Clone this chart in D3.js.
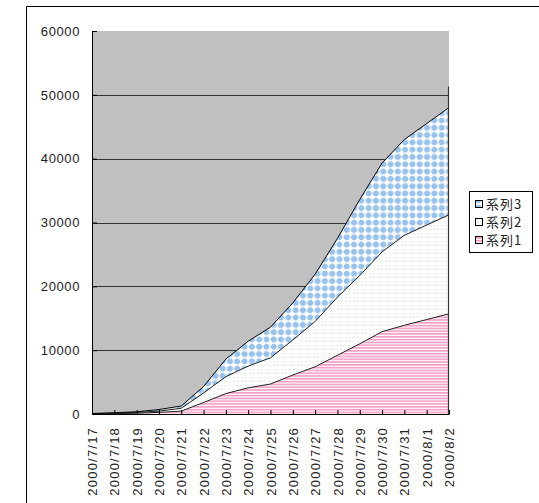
<!DOCTYPE html>
<html>
<head>
<meta charset="utf-8">
<script src="https://cdn.jsdelivr.net/npm/d3@7"></script>
<style>
  html, body { margin: 0; padding: 0; background: #fff; }
  svg { display: block; }
</style>
</head>
<body>
<svg id="chart" width="539" height="503"></svg>
<script>
// Daily dates on the category axis
const dates = ["2000/7/17","2000/7/18","2000/7/19","2000/7/20","2000/7/21","2000/7/22",
  "2000/7/23","2000/7/24","2000/7/25","2000/7/26","2000/7/27","2000/7/28",
  "2000/7/29","2000/7/30","2000/7/31","2000/8/1","2000/8/2"];

// Series values (stacked bottom to top: 系列1, 系列2, 系列3)
const series1 = [20, 60, 120, 250, 450, 1800, 3200, 4100, 4700, 6100, 7400, 9200, 11000, 12900, 13900, 14800, 15700];
const series2 = [30, 60, 130, 200, 450, 1500, 2650, 3400, 4100, 5500, 7100, 9100, 10700, 12500, 14100, 14800, 15500];
const series3 = [30, 80, 100, 250, 350, 1000, 2750, 3900, 4800, 5800, 7400, 9200, 11900, 13900, 15000, 15900, 16800];
const seriesNames = ["系列1", "系列2", "系列3"];

// Value axis ticks
const yTicks = [0, 10000, 20000, 30000, 40000, 50000, 60000];
const yMax = 60000;
// Height reached by the plot's right-hand edge line
const edgeValue = 51300;

const svg = d3.select("#chart");

// Outer chart frame
svg.append("line").attr("x1", 26.5).attr("y1", 6.5).attr("x2", 539).attr("y2", 6.5)
  .attr("stroke", "#000").attr("stroke-width", 1);
svg.append("line").attr("x1", 26.5).attr("y1", 6.5).attr("x2", 26.5).attr("y2", 503)
  .attr("stroke", "#000").attr("stroke-width", 1);

const x = d3.scalePoint().domain(dates).range([92, 449]);
const y = d3.scaleLinear().domain([0, yMax]).range([414, 31]);

// Fill patterns
const defs = svg.append("defs");

// 系列3: blue diamonds on white
const p3 = defs.append("pattern").attr("id", "pat3")
  .attr("patternUnits", "userSpaceOnUse").attr("width", 7.3).attr("height", 7.3);
p3.append("rect").attr("width", 7.3).attr("height", 7.3).attr("fill", "#fff");
p3.append("path")
  .attr("d", "M2.6,0.6 L4.7,0.6 L6.7,2.6 L6.7,4.7 L4.7,6.7 L2.6,6.7 L0.6,4.7 L0.6,2.6 Z")
  .attr("fill", "#99c2ec");

// 系列2: sparse light green dots on white
const p2 = defs.append("pattern").attr("id", "pat2")
  .attr("patternUnits", "userSpaceOnUse").attr("width", 4).attr("height", 4);
p2.append("rect").attr("width", 4).attr("height", 4).attr("fill", "#fff");
p2.append("rect").attr("x", 1).attr("y", 1).attr("width", 1).attr("height", 1).attr("fill", "#d4ecd0");

// 系列1: pink horizontal stripes
const p1 = defs.append("pattern").attr("id", "pat1")
  .attr("patternUnits", "userSpaceOnUse").attr("width", 8).attr("height", 2.8);
p1.append("rect").attr("width", 8).attr("height", 2.8).attr("fill", "#fff");
p1.append("rect").attr("width", 8).attr("height", 1.6).attr("fill", "#f29ac4");

const fills = ["url(#pat1)", "url(#pat2)", "url(#pat3)"];

// Plot area background
svg.append("rect")
  .attr("x", x(dates[0])).attr("y", y(yMax))
  .attr("width", x(dates[dates.length - 1]) - x(dates[0]))
  .attr("height", y(0) - y(yMax))
  .attr("fill", "#c0c0c0");

// Horizontal gridlines
svg.append("g").selectAll("line")
  .data(yTicks.filter(v => v > 0 && v < yMax))
  .join("line")
  .attr("x1", x(dates[0])).attr("x2", x(dates[dates.length - 1]))
  .attr("y1", d => Math.round(y(d)) + 0.5).attr("y2", d => Math.round(y(d)) + 0.5)
  .attr("stroke", "#333").attr("stroke-width", 1);

// Stacked areas
const rows = dates.map((d, i) => ({ date: d, s1: series1[i], s2: series2[i], s3: series3[i] }));
const stack = d3.stack().keys(["s1", "s2", "s3"]);
const layers = stack(rows);

const area = d3.area()
  .x(d => x(d.data.date))
  .y0(d => y(d[0]))
  .y1(d => y(d[1]));

svg.append("g").selectAll("path")
  .data(layers)
  .join("path")
  .attr("d", area)
  .attr("fill", (d, i) => fills[i]);

// Series boundary lines
const line = d3.line()
  .x(d => x(d.data.date))
  .y(d => y(d[1]));

svg.append("g").selectAll("path")
  .data(layers)
  .join("path")
  .attr("d", line)
  .attr("fill", "none")
  .attr("stroke", (d, i) => i === 2 ? "#000" : "#222")
  .attr("stroke-width", 1);

// Right edge of the plot
svg.append("line")
  .attr("x1", x(dates[dates.length - 1]) - 0.5).attr("x2", x(dates[dates.length - 1]) - 0.5)
  .attr("y1", y(edgeValue)).attr("y2", y(0))
  .attr("stroke", "#333").attr("stroke-width", 1.2);

// Value axis
const yAxis = svg.append("g")
  .attr("transform", `translate(${x(dates[0])},0)`)
  .call(d3.axisLeft(y).tickValues(yTicks).tickFormat(d3.format("d"))
    .tickSize(-5).tickSizeOuter(0).tickPadding(12));
yAxis.select(".domain").attr("stroke", "#000");
yAxis.selectAll(".tick line").attr("stroke", "#000");
yAxis.selectAll("text")
  .attr("font-family", "'Liberation Sans', Arial, sans-serif")
  .attr("font-size", 13)
  .attr("letter-spacing", 0.6)
  .attr("fill", "#222");

// Category axis
const xAxis = svg.append("g")
  .attr("transform", `translate(0,${y(0)})`)
  .call(d3.axisBottom(x).tickSize(-4).tickSizeOuter(0));
xAxis.select(".domain").attr("stroke", "#000");
xAxis.selectAll(".tick line").attr("stroke", "#000");
xAxis.selectAll("text")
  .attr("font-family", "'Liberation Sans', Arial, sans-serif")
  .attr("font-size", 13)
  .attr("letter-spacing", 1.2)
  .attr("fill", "#222")
  .attr("transform", "rotate(-90)")
  .attr("text-anchor", "end")
  .attr("x", -13)
  .attr("y", 0)
  .attr("dy", "0.35em");

// Legend
const legend = svg.append("g");
legend.append("rect")
  .attr("x", 469.5).attr("y", 191.5).attr("width", 63).attr("height", 61)
  .attr("fill", "#fff").attr("stroke", "#000").attr("stroke-width", 1);

const legendOrder = [2, 1, 0];
const rowY = d3.scalePoint().domain(legendOrder).range([204, 240]);
const items = legend.selectAll("g.item")
  .data(legendOrder)
  .join("g").attr("class", "item")
  .attr("transform", d => `translate(0,${rowY(d)})`);
items.append("rect")
  .attr("x", 475.5).attr("y", -3.5).attr("width", 7).attr("height", 7)
  .attr("fill", d => fills[d]).attr("stroke", "#000").attr("stroke-width", 1);
items.append("text")
  .attr("x", 486).attr("y", 0).attr("dy", "0.36em")
  .attr("font-family", "'Noto Sans CJK JP', sans-serif")
  .attr("font-size", 13)
  .attr("letter-spacing", 1)
  .attr("fill", "#222")
  .text(d => seriesNames[d]);
</script>
</body>
</html>
